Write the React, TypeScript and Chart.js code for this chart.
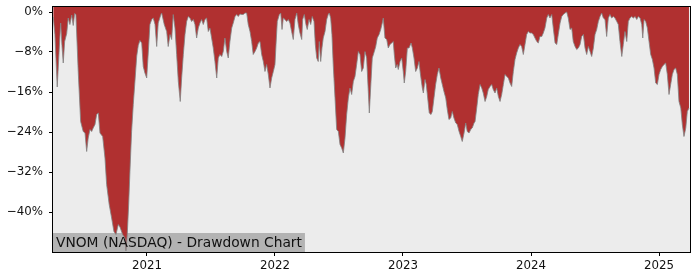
import React, { useEffect, useRef } from "react";
import { Chart, registerables } from "chart.js";

Chart.register(...registerables);

// Dates as decimal years
const dates: number[] = [
  2020.268, 2020.281, 2020.299, 2020.315, 2020.326, 2020.336, 2020.346, 2020.357, 2020.373, 2020.385,
  2020.398, 2020.412, 2020.424, 2020.435, 2020.445, 2020.463, 2020.482, 2020.502, 2020.516, 2020.529,
  2020.541, 2020.555, 2020.568, 2020.580, 2020.594, 2020.607, 2020.620, 2020.633, 2020.654, 2020.672,
  2020.685, 2020.705, 2020.724, 2020.742, 2020.758, 2020.776, 2020.789, 2020.810, 2020.828, 2020.836,
  2020.846, 2020.857, 2020.867, 2020.880, 2020.893, 2020.906, 2020.920, 2020.932, 2020.945, 2020.959,
  2020.971, 2020.984, 2020.998, 2021.010, 2021.023, 2021.037, 2021.049, 2021.063,
  2021.076, 2021.088, 2021.109, 2021.115, 2021.135, 2021.154, 2021.166, 2021.180, 2021.193, 2021.205,
  2021.219, 2021.232, 2021.245, 2021.260, 2021.271, 2021.284, 2021.297, 2021.310, 2021.323, 2021.336,
  2021.349, 2021.362, 2021.375, 2021.388, 2021.401, 2021.414, 2021.427, 2021.440, 2021.453, 2021.466,
  2021.479, 2021.492, 2021.505, 2021.518, 2021.531, 2021.545, 2021.557, 2021.570, 2021.584, 2021.596,
  2021.609, 2021.623, 2021.635, 2021.648, 2021.662, 2021.674, 2021.688, 2021.701, 2021.713, 2021.727,
  2021.740, 2021.752, 2021.766, 2021.779, 2021.791, 2021.805, 2021.818, 2021.830, 2021.844, 2021.857,
  2021.870,
  2021.883, 2021.896, 2021.909, 2021.922, 2021.935, 2021.948, 2021.961, 2021.974, 2021.987, 2022.000,
  2022.008, 2022.018, 2022.034, 2022.045, 2022.055, 2022.065, 2022.078, 2022.091, 2022.104, 2022.117,
  2022.130, 2022.143, 2022.156, 2022.170, 2022.182, 2022.195, 2022.209, 2022.216, 2022.229, 2022.242,
  2022.252, 2022.266, 2022.279, 2022.291, 2022.305, 2022.315, 2022.326, 2022.338, 2022.346, 2022.357,
  2022.367, 2022.377, 2022.391, 2022.404, 2022.416, 2022.424, 2022.435, 2022.445, 2022.455, 2022.469,
  2022.482, 2022.495, 2022.508, 2022.521, 2022.534, 2022.547, 2022.560, 2022.573, 2022.586, 2022.599,
  2022.612, 2022.625, 2022.638, 2022.651, 2022.664, 2022.677, 2022.690,
  2022.703, 2022.716, 2022.729, 2022.737, 2022.750, 2022.760, 2022.776, 2022.787, 2022.799, 2022.813,
  2022.826, 2022.838, 2022.846, 2022.859, 2022.873, 2022.885, 2022.898, 2022.912, 2022.924, 2022.932,
  2022.943, 2022.955, 2022.963, 2022.977, 2022.990, 2023.002, 2023.010, 2023.021, 2023.034, 2023.047,
  2023.063, 2023.073, 2023.086, 2023.099, 2023.112, 2023.125, 2023.135, 2023.151, 2023.159, 2023.172,
  2023.182, 2023.193, 2023.205, 2023.219, 2023.229, 2023.242, 2023.255, 2023.268, 2023.281, 2023.295,
  2023.307, 2023.320, 2023.334, 2023.346, 2023.359, 2023.373, 2023.385, 2023.398, 2023.412, 2023.424,
  2023.438, 2023.451, 2023.463, 2023.477, 2023.490, 2023.502, 2023.516, 2023.529, 2023.541, 2023.555,
  2023.563,
  2023.576, 2023.588, 2023.602, 2023.615, 2023.627, 2023.641, 2023.654, 2023.666, 2023.680, 2023.693,
  2023.705, 2023.719, 2023.732, 2023.745, 2023.758, 2023.771, 2023.784, 2023.797, 2023.810, 2023.823,
  2023.836, 2023.849, 2023.862, 2023.875, 2023.888, 2023.901, 2023.914, 2023.927, 2023.940, 2023.953,
  2023.966, 2023.979, 2023.992, 2024.005, 2024.018, 2024.031, 2024.045, 2024.057, 2024.070, 2024.084,
  2024.096, 2024.109, 2024.123, 2024.135, 2024.148, 2024.162, 2024.174, 2024.188, 2024.201, 2024.213,
  2024.227, 2024.240, 2024.252, 2024.266, 2024.279, 2024.291, 2024.305, 2024.318, 2024.330, 2024.344,
  2024.357, 2024.370, 2024.383,
  2024.396, 2024.409, 2024.422, 2024.435, 2024.448, 2024.461, 2024.474, 2024.487, 2024.500, 2024.513,
  2024.526, 2024.539, 2024.552, 2024.565, 2024.578, 2024.591, 2024.604, 2024.617, 2024.630, 2024.643,
  2024.656, 2024.670, 2024.682, 2024.695, 2024.709, 2024.721, 2024.734, 2024.748, 2024.760, 2024.773,
  2024.787, 2024.799, 2024.813, 2024.826, 2024.838, 2024.852, 2024.865, 2024.873, 2024.883, 2024.896,
  2024.909, 2024.922, 2024.935, 2024.948, 2024.961, 2024.974, 2024.987, 2025.000, 2025.013, 2025.026,
  2025.039, 2025.052, 2025.065, 2025.078, 2025.091, 2025.104, 2025.117, 2025.130, 2025.143, 2025.156,
  2025.170, 2025.182, 2025.195, 2025.209, 2025.221, 2025.234,
];

// Drawdown in percent
const drawdown: number[] = [
  -1.0, -4.5, -15.0, -7.2, -2.2, -6.7, -10.2, -5.9, -4.3, -1.2,
  -2.5, -0.6, -2.7, -0.3, -0.5, -11.9, -21.9, -23.9, -24.2, -27.9,
  -25.2, -23.5, -23.9, -23.2, -22.5, -20.5, -20.2, -24.2, -24.9, -29.2,
  -34.5, -38.5, -41.2, -43.9, -44.5, -42.5, -43.0, -44.5, -45.2, -47.8,
  -44.5, -38.5, -31.9, -23.9, -18.5, -13.9, -8.8, -6.7, -5.7, -6.2,
  -10.9, -12.2, -13.2, -8.2, -2.5, -1.5, -1.2, -2.5,
  -6.9, -2.2, -0.5, -0.2, -2.5, -3.9, -6.9, -4.5, -5.5, -0.5,
  -3.2, -8.5, -13.9, -17.9, -13.2, -8.5, -4.5, -1.9, -0.9, -1.2,
  -1.9, -1.5, -2.5, -5.2, -3.2, -2.2, -1.5, -2.5, -1.5, -1.2,
  -3.9, -3.2, -5.2, -7.2, -9.9, -13.2, -9.2, -8.5, -8.9, -7.9,
  -5.2, -7.9, -9.2, -5.9, -3.2, -2.2, -0.9, -0.5, -0.9, -0.4,
  -0.5, -0.5, -0.2, -0.2, -2.5, -3.9, -5.9, -8.5, -7.9, -7.2,
  -6.2,
  -5.9, -8.5, -9.9, -11.9, -10.5, -12.5, -15.2, -13.2, -11.9, -10.5,
  -6.5, -1.9, -0.5, -0.2, -3.5, -1.2, -1.5, -1.9, -1.5, -2.2,
  -3.9, -5.5, -1.5, -0.2, -2.5, -4.2, -5.5, -1.5, -0.5, -2.5,
  -3.5, -1.5, -2.5, -0.9, -1.9, -6.5, -9.2, -9.9, -5.9, -9.9,
  -7.2, -5.2, -3.9, -1.5, -0.5, -0.2, -1.2, -4.5, -10.5, -17.2,
  -23.5, -23.9, -26.5, -27.2, -28.2, -25.2, -20.5, -17.2, -15.2, -16.5,
  -13.9, -12.9, -10.5, -7.9, -8.5, -11.9, -11.2,
  -7.9, -9.2, -15.9, -20.2, -13.9, -9.2, -7.9, -6.9, -5.2, -4.5,
  -3.5, -2.2, -1.2, -5.2, -5.5, -7.2, -6.5, -6.2, -5.9, -8.5,
  -11.2, -10.5, -11.5, -9.9, -9.2, -11.9, -14.2, -11.9, -7.2, -7.2,
  -6.2, -7.2, -9.2, -11.9, -11.2, -9.9, -12.2, -15.2, -16.2, -13.5,
  -14.5, -17.2, -20.2, -20.5, -19.9, -17.2, -14.5, -12.5, -11.2, -13.2,
  -14.5, -15.9, -17.2, -19.5, -21.5, -21.2, -19.9, -21.2, -22.2, -22.5,
  -23.9, -24.9, -25.9, -24.2, -22.2, -23.9, -24.2, -23.5, -23.2, -22.2,
  -21.9,
  -19.2, -16.5, -14.5, -15.2, -16.2, -17.9, -16.9, -15.5, -14.9, -14.5,
  -15.5, -16.2, -15.2, -16.9, -17.9, -16.5, -14.5, -12.5, -12.9, -13.2,
  -14.2, -14.9, -11.9, -9.5, -8.2, -7.2, -6.5, -6.9, -8.5, -6.5,
  -4.5, -3.9, -4.2, -4.2, -4.5, -5.2, -5.9, -6.2, -4.9, -4.9,
  -4.2, -3.2, -1.2, -0.5, -1.2, -0.5, -3.2, -6.2, -6.5, -4.5,
  -2.2, -0.9, -0.5, -0.2, 0.0, -1.2, -3.5, -3.2, -5.9, -6.9,
  -7.5, -7.2, -6.5,
  -4.9, -4.5, -7.2, -8.5, -6.9, -7.9, -8.9, -7.2, -4.5, -3.5,
  -1.9, -0.9, -0.2, -1.2, -1.5, -4.9, -1.2, -0.5, -1.2, -0.9,
  -1.2, -1.9, -2.5, -5.9, -8.9, -6.5, -3.9, -5.9, -1.9, -1.2,
  -0.9, -1.2, -0.9, -1.5, -0.9, -1.2, -2.5, -5.2, -1.5, -1.9,
  -3.2, -5.9, -8.5, -9.5, -11.2, -14.2, -14.5, -12.5, -11.5, -10.9,
  -10.5, -10.2, -12.5, -16.5, -14.5, -12.5, -11.5, -11.2, -12.5, -17.9,
  -19.2, -22.5, -24.9, -23.2, -19.9, -19.2,
];

const yearTicks: number[] = [2021, 2022, 2023, 2024, 2025];
const pctTicks: number[] = [-40, -32, -24, -16, -8, 0];
const title = "VNOM (NASDAQ) - Drawdown Chart";

const FONT = "'DejaVu Sans', sans-serif";

export default function App() {
  const ref = useRef<HTMLCanvasElement | null>(null);

  useEffect(() => {
    if (!ref.current) return;
    const points = dates.map((d, i) => ({ x: d, y: drawdown[i] }));

    const framePlugin = {
      id: "frame",
      beforeDraw(chart: any) {
        const { ctx, chartArea } = chart;
        ctx.save();
        ctx.fillStyle = "#ececec";
        ctx.fillRect(chartArea.left, chartArea.top, chartArea.right - chartArea.left, chartArea.bottom - chartArea.top);
        ctx.restore();
      },
      beforeDatasetsDraw(chart: any) {
        const { ctx, chartArea } = chart;
        ctx.save();
        ctx.font = `13.8px ${FONT}`;
        const w = ctx.measureText(title).width;
        ctx.fillStyle = "#b3b3b3";
        ctx.fillRect(chartArea.left, chartArea.bottom - 19, w + 6, 19);
        ctx.restore();
      },
      afterDatasetsDraw(chart: any) {
        const { ctx, chartArea } = chart;
        ctx.save();
        ctx.font = `13.8px ${FONT}`;
        ctx.fillStyle = "#111";
        ctx.textBaseline = "alphabetic";
        ctx.fillText(title, chartArea.left + 3, chartArea.bottom - 4.7);
        ctx.strokeStyle = "#000";
        ctx.lineWidth = 1;
        ctx.strokeRect(
          Math.round(chartArea.left) - 0.5,
          Math.round(chartArea.top) - 0.5,
          Math.round(chartArea.right - chartArea.left) + 1,
          Math.round(chartArea.bottom - chartArea.top) + 1
        );
        ctx.restore();
      },
    };

    const chart = new Chart(ref.current, {
      type: "line",
      data: {
        datasets: [
          {
            data: points,
            borderColor: "rgba(130,130,130,0.8)",
            borderWidth: 1,
            backgroundColor: "#b03030",
            fill: "end",
            pointRadius: 0,
            tension: 0,
          },
        ],
      },
      options: {
        responsive: false,
        animation: false,
        devicePixelRatio: 1,
        layout: { padding: { left: 0, right: 10, top: 7, bottom: 0 } },
        plugins: { legend: { display: false }, tooltip: { enabled: false } },
        scales: {
          x: {
            type: "linear",
            min: 2020.266,
            max: 2025.242,
            afterBuildTicks: (scale: any) => {
              scale.ticks = yearTicks.map((v) => ({ value: v }));
            },
            afterFit: (scale: any) => {
              scale.height = 28;
              scale.paddingLeft = 0;
              scale.paddingRight = 0;
            },
            grid: {
              drawOnChartArea: false,
              drawTicks: true,
              tickLength: 4,
              color: "#000",
            },
            border: { display: false },
            ticks: {
              autoSkip: false,
              maxRotation: 0,
              padding: 3,
              color: "#111",
              font: { family: FONT, size: 11.8 },
              callback: (v: any) => String(v),
            },
          },
          y: {
            type: "linear",
            min: -48,
            max: 1,
            afterBuildTicks: (scale: any) => {
              scale.ticks = pctTicks.map((v) => ({ value: v }));
            },
            afterFit: (scale: any) => {
              scale.width = 53;
              scale.paddingTop = 0;
              scale.paddingBottom = 0;
            },
            grid: {
              drawOnChartArea: false,
              drawTicks: true,
              tickLength: 4,
              color: "#000",
            },
            border: { display: false },
            ticks: {
              padding: 6,
              color: "#111",
              font: { family: FONT, size: 11.8 },
              callback: (v: any) => (v === 0 ? "0%" : "\u2212" + Math.abs(v) + "%"),
            },
          },
        },
      },
      plugins: [framePlugin],
    } as any);

    return () => chart.destroy();
  }, []);

  return (
    <div style={{ position: "absolute", left: 0, top: 0, width: 700, height: 280, background: "#fff" }}>
      <canvas ref={ref} width={700} height={280} />
    </div>
  );
}
